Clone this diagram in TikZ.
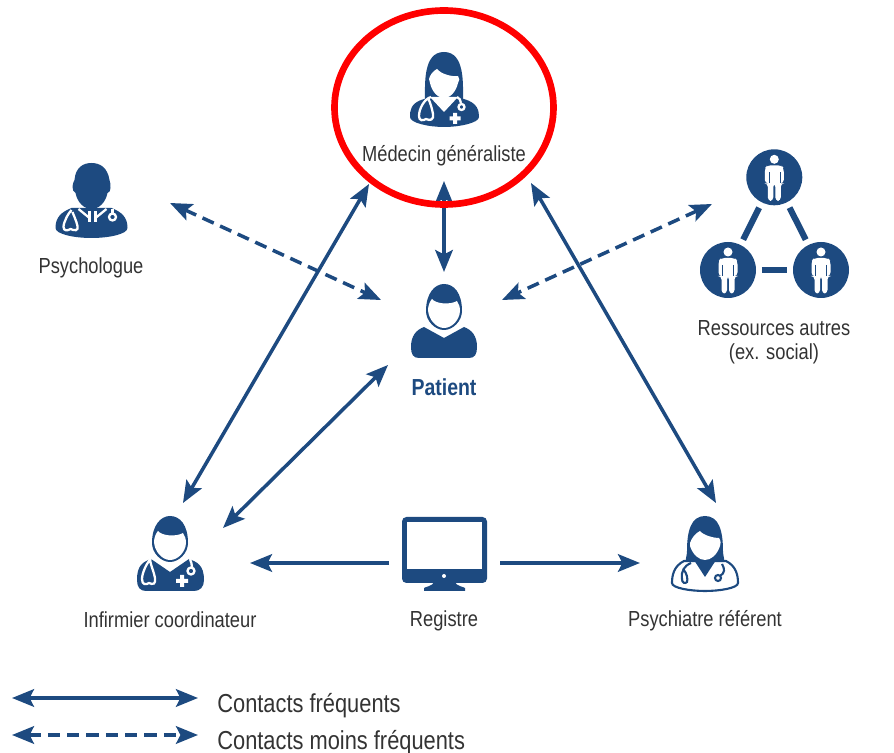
\documentclass[tikz,border=0pt]{standalone}
\usepackage{fontspec}
\setmainfont[FakeStretch=0.84]{Liberation Sans}
\usetikzlibrary{arrows.meta,shapes.geometric}

\definecolor{iconblue}{HTML}{1D4A80}
\definecolor{textgrey}{HTML}{333333}

\tikzset{
  contact/.style={draw=iconblue,line width=2pt,{Stealth[length=12.5pt,width=10pt,inset=2.5pt]}-{Stealth[length=12.5pt,width=10pt,inset=2.5pt]}},
  contactless/.style={contact,dash pattern=on 7pt off 4pt},
  feed/.style={draw=iconblue,line width=2pt,-{Stealth[length=12.5pt,width=10pt,inset=2.5pt]}},
  link/.style={draw=iconblue,line width=3.5pt,shorten <=3.2pt,shorten >=3.2pt},
  blue/.style={fill=iconblue,draw=none},
  blank/.style={fill=white,draw=none},
  tube/.style={draw=white,line width=1.3pt,fill=none},
  tubeblue/.style={draw=iconblue,line width=1.2pt,fill=none},
  lab/.style={text=textgrey,font=\fontsize{12.4}{13.6}\selectfont,align=center},
  keylab/.style={lab,anchor=west,inner sep=0pt,font=\fontsize{14.8}{16}\selectfont},
  crowd/.style={circle,fill=iconblue,inner sep=0pt,minimum size=56*0.02cm},
  % man with fair face, used twice
  pics/manhead/.style={code={
    \path[blue] (-18,-10) .. controls (-18,-28) and (-9,-37) .. (0,-37) .. controls (10,-37) and (18,-28) .. (18,-10)
      .. controls (18,0) and (9,9) .. (0,9) .. controls (-9,9) and (-18,0) .. (-18,-10) -- cycle;
    \path[blank] (-16,-12) .. controls (-15.5,-16) and (-14,-20) .. (-12,-22) .. controls (-8,-17) and (6,-16) .. (13,-20)
      .. controls (15,-17) and (16,-14) .. (16,-10) .. controls (15.5,-1) and (8,7) .. (0,7) .. controls (-8,7) and (-16,-2) .. (-16,-12) -- cycle;
  }},
  pics/patientman/.style={code={
    \path[blue] (-20,6) .. controls (-28,9) and (-33,15) .. (-33,26) .. controls (-33,33) and (-31,37) .. (-25,37) -- (25,37)
      .. controls (31,37) and (33,33) .. (33,26) .. controls (33,15) and (28,9) .. (20,6) -- (0,17) -- cycle;
    \pic {manhead};
  }},
  pics/nurseman/.style={code={
    \path[blue] (-19,6) .. controls (-27,9) and (-33,12) .. (-33,27) .. controls (-33,34) and (-30,38) .. (-24,38) -- (24,38)
      .. controls (30,38) and (34,34) .. (34,27) .. controls (34,12) and (27,9) .. (19,6) -- (0,19) -- cycle;
    \pic {manhead};
    \path[tube] (-19,6) .. controls (-23,9) and (-28,20) .. (-28,26) .. controls (-28,32) and (-24,32) .. (-21,30)
      .. controls (-17,32) and (-14,31) .. (-15,25) .. controls (-16,19) and (-19,13) .. (-20,7);
    \path[tube] (20,6) .. controls (21,9) and (22,11) .. (22,14);
    \draw[tube] (21,18) circle (3.5);
    \path[blank] (10,22) rectangle (14,34) (6,26) rectangle (18,30);
  }},
  pics/doctorwoman/.style={code={
    \path[blue] (-20,10) .. controls (-34,14) and (-34,22) .. (-34,28) .. controls (-34,34) and (-15,38) .. (0,38)
      .. controls (15,38) and (35,34) .. (35,28) .. controls (35,22) and (34,14) .. (20,10) -- cycle;
    \path[blue] (-19,11) .. controls (-19,-5) and (-21,-37) .. (0,-37) .. controls (21,-37) and (19,-5) .. (19,11) -- cycle;
    \path[blank] (-14,8) -- (0,23) -- (14,8) -- cycle;
    \path[blank] (-15,-10) .. controls (-14,-14) and (-11,-18) .. (-7,-20) .. controls (-3,-15) and (8,-12) .. (14,-13)
      .. controls (16,-11) and (15.5,-8) .. (14,-6) .. controls (12,3) and (6,9) .. (0,9) .. controls (-6,9) and (-12,3) .. (-14,-6) -- cycle;
    \path[tube] (-13,8) .. controls (-20,10) and (-25,20) .. (-25,27) .. controls (-25,32) and (-21,32) .. (-18,30)
      .. controls (-14,32) and (-10,31) .. (-11,25) .. controls (-12,19) and (-14,13) .. (-16,9);
    \path[tube] (13,8) .. controls (15,9) and (17,11) .. (17,14);
    \draw[tube] (17.5,18) circle (3);
    \path[blank] (9,24) rectangle (13,35) (5.5,27.5) rectangle (16.5,31.5);
  }},
  pics/headman/.style={code={
    \path[blue] (-36,28) .. controls (-36,17) and (-30,12) .. (-20,8) -- (20,8) .. controls (30,12) and (36,17) .. (36,28)
      .. controls (36,34) and (18,38) .. (0,38) .. controls (-18,38) and (-36,34) .. (-36,28) -- cycle;
    \path[blue] (-17,-20) .. controls (-16,-33) and (-8,-37) .. (0,-37) .. controls (8,-37) and (16,-33) .. (18,-20)
      .. controls (18.5,-18) and (19.5,-15) .. (19,-12) .. controls (19,-9) and (18,-8) .. (16,-7)
      .. controls (14,3) and (7,9) .. (0,9) .. controls (-7,9) and (-14,3) .. (-16,-7) .. controls (-18,-8) and (-19,-10) .. (-19,-13)
      .. controls (-19,-16) and (-18,-18) .. (-17,-20) -- cycle;
    \path[tube] (-13,9) -- (-2,18);
    \path[tube] (15,9) -- (4,18);
    \path[tube] (-2,11) -- (-2,22);
    \path[tube] (4,11) -- (4,22);
    \path[tube] (-20,10) .. controls (-23,13) and (-28,22) .. (-28,27) .. controls (-28,31) and (-24,31) .. (-21,29)
      .. controls (-17,31) and (-13,31) .. (-14,26) .. controls (-15,21) and (-18,15) .. (-19,12);
    \path[tube] (21,9) -- (21,13);
    \draw[tube] (21,17) circle (3.5);
  }},
  pics/psywoman/.style={code={
    \path[draw=iconblue,line width=1.2pt,fill=white] (-21,8) .. controls (-31,13) and (-33,22) .. (-33,30) .. controls (-33,35) and (-15,38) .. (0,38)
      .. controls (15,38) and (33,35) .. (33,30) .. controls (33,22) and (31,13) .. (21,8) -- cycle;
    \path[blue] (-18,-2) .. controls (-18,-22) and (-14,-37) .. (0,-37) .. controls (14,-37) and (18,-22) .. (18,-2)
      .. controls (18,3) and (20,7) .. (19,9) -- (-19,9) .. controls (-20,7) and (-18,3) .. (-18,-2) -- cycle;
    \path[blue] (-13,4) -- (0,24) -- (13,4) -- cycle;
    \path[blank] (-15,-10) .. controls (-13,-16) and (-9,-20) .. (-5,-22) .. controls (-2,-18) and (8,-15) .. (14,-15)
      .. controls (16,-12) and (16,-9) .. (15,-7) .. controls (12,2) and (6,7) .. (0,7) .. controls (-6,7) and (-12,2) .. (-15,-7) -- cycle;
    \path[tubeblue] (-14,10) .. controls (-21,13) and (-24,18) .. (-23,26) (-22,16) .. controls (-18,20) and (-17,26) .. (-18,29) .. controls (-20,31) and (-23,30) .. (-23,26);
    \path[tubeblue] (17,11) .. controls (20,16) and (20,20) .. (15,23);
    \draw[tubeblue] (13,25) circle (3);
  }},
  pics/oneperson/.style={code={
    \path[fill=white] (0,-18) circle (4.5);
    \path[fill=white,rounded corners=2] (-9.5,6) -- (-9.5,-9) -- (-7,-12) -- (7,-12) -- (9.5,-9) -- (9.5,6) -- (6.5,6) -- (6.5,23.5)
      -- (1,23.5) -- (1,6) -- (-1,6) -- (-1,23.5) -- (-6.5,23.5) -- (-6.5,6) -- cycle;
    \draw[iconblue,line width=0.3pt] (-5.5,-5) -- (-5.5,6) (5.5,-5) -- (5.5,6);
  }}
}

\begin{document}
\begin{tikzpicture}[x=0.02cm,y=-0.02cm]
  \useasboundingbox (0,0) rectangle (894,753);
  % Icons
  \pic at (444,89) {doctorwoman};
  \pic at (91.5,200) {headman};
  \pic at (444,321) {patientman};
  \pic at (170,553) {nurseman};
  \pic at (705,553) {psywoman};
  % Three resources
  \node[crowd] (res) at (774.3,177.3) {};
  \node[crowd] (resl) at (728,270) {};
  \node[crowd] (resr) at (821,270) {};
  \foreach \n in {res,resl,resr}
    \pic at (\n) {oneperson};
  \draw[link] (res) -- (resl);
  \draw[link] (res) -- (resr);
  \draw[link] (resl) -- (resr);
  % Screen
  \path[blue,rounded corners=2.5pt] (402,517) rectangle (487,583);
  \path[blank] (407,522) rectangle (482,569);
  \path[blank] (444,576) circle (2);
  \path[blue] (434,582) -- (455,582) .. controls (456,586) and (464,587) .. (465,588) -- (465,591) -- (424,591) -- (424,588)
    .. controls (425,587) and (433,586) .. (434,582) -- cycle;
  % Labels
  \node[lab] (mg) at (444,156) {Médecin généraliste};
  \node[lab] (psy) at (91,268) {Psychologue};
  \node[lab] (other) at (774,342) {Ressources autres \\ (ex. social)};
  \node[lab,text=iconblue,font=\fontsize{13.2}{14}\selectfont\bfseries] (pat) at (444,387) {Patient};
  \node[lab] (inf) at (170,620) {Infirmier coordinateur};
  \node[lab] (reg) at (444,621) {Registre};
  \node[lab] (ref) at (705,621) {Psychiatre référent};
  % Arrow ends
  \coordinate (mgs) at (444,181);
  \coordinate (mgw) at (369,184);
  \coordinate (mge) at (531,183);
  \coordinate (patn) at (444,272);
  \coordinate (patnw) at (381,300);
  \coordinate (patne) at (502,300);
  \coordinate (patsw) at (388,365);
  \coordinate (psye) at (170,203);
  \coordinate (othw) at (712,204);
  \coordinate (infn) at (183,503);
  \coordinate (infne) at (223,528);
  \coordinate (infe) at (250,563);
  \coordinate (refn) at (716,503);
  \coordinate (refw) at (640,563);
  \coordinate (regw) at (389,563);
  \coordinate (rege) at (500,563);
  % Contacts
  \draw[contact] (mgs) -- (patn);
  \draw[contact] (infn) -- (mgw);
  \draw[contact] (refn) -- (mge);
  \draw[contact] (infne) -- (patsw);
  \draw[contactless] (psye) -- (patnw);
  \draw[contactless] (othw) -- (patne);
  \draw[feed] (regw) -- (infe);
  \draw[feed] (rege) -- (refw);
  % Red ring
  \node[draw=red,line width=3.8pt,ellipse,inner sep=0pt,minimum width=219*0.02cm,minimum height=194*0.02cm] (ring) at (444,107.5) {};
  % Legend
  \coordinate (keya) at (12,698);
  \coordinate (keyb) at (198,698);
  \coordinate (keyc) at (12,735);
  \coordinate (keyd) at (198,735);
  \draw[contact] (keya) -- (keyb);
  \draw[contactless] (keyc) -- (keyd);
  \node[keylab] (freq) at (217,705.5) {Contacts fréquents};
  \node[keylab] (rare) at (217,742.5) {Contacts moins fréquents};
\end{tikzpicture}
\end{document}
